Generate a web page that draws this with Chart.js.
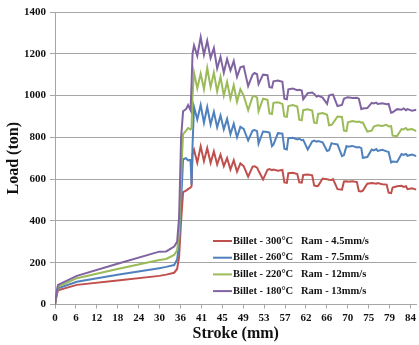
<!DOCTYPE html>
<html>
<head>
<meta charset="utf-8">
<script src="https://cdn.jsdelivr.net/npm/chart.js@4/dist/chart.umd.min.js"></script>
<style>
  html, body { margin: 0; padding: 0; background: #fff; }
  #wrap { width: 419px; height: 345px; }
</style>
</head>
<body>
<div id="wrap"><canvas id="chart" width="419" height="345"></canvas></div>
<script>
// stroke labels shown under the category axis (one per tick position)
const strokeTicks = [0, 6, 12, 18, 24, 30, 36, 41, 45, 49, 53, 57, 62, 66, 70, 75, 79, 84];

// sample positions along the category axis (in tick units), shared by all series
const pos = [
  0, 0.071, 0.142, 1.045, 2.991, 4.986, 5.318, 5.698, 5.840, 5.935, 6.030, 6.125, 6.268, 6.363, 6.481, 6.529, 6.576,
  6.648, 6.804, 6.966, 7.123, 7.279, 7.441, 7.597, 7.754, 7.915, 8.072, 8.229, 8.390, 8.547, 8.704, 8.865,
  9.022, 9.236, 9.449, 9.544, 9.663,
  9.734, 9.948, 10.161, 10.256, 10.375,
  10.446, 10.660, 10.874, 10.969, 11.087,
  11.159, 11.372, 11.586, 11.681, 11.800,
  11.871, 12.085, 12.298, 12.393, 12.512,
  12.583, 12.797, 13.011, 13.106, 13.224,
  13.295, 13.509, 13.723, 13.818, 13.937,
  14.008, 14.222, 14.435, 14.530, 14.649,
  14.720, 14.934, 15.147, 15.242, 15.361,
  15.432, 15.646, 15.859, 15.954, 16.073,
  16.144, 16.358, 16.572, 16.667, 16.785,
  16.857, 17.070, 17.284
];

// load (ton)
const load300 = [
  0, 40, 68, 94, 115, 137, 143, 152, 170, 229, 400, 538, 545, 552, 560, 565, 720,
  741, 678, 757, 686, 749, 678, 733, 670, 717, 662, 701, 646, 690, 636, 675,
  662, 612, 660, 661, 655,
  640, 598, 645, 648, 643,
  646, 640, 644, 584, 582,
  628, 630, 624, 585, 583,
  620, 622, 618, 570, 566,
  568, 603, 600, 597, 596,
  600, 552, 550, 589, 590,
  588, 590, 586, 543, 541,
  545, 578, 582, 580, 578,
  581, 576, 574, 535, 533,
  560, 566, 568, 563, 566,
  552, 556, 550
];
const load260 = [
  0, 45, 78, 109, 142, 174, 180, 189, 215, 295, 487, 695, 700, 690, 692, 575, 760,
  945, 885, 955, 870, 945, 862, 922, 848, 905, 838, 888, 815, 865, 800, 850,
  840, 785, 832, 835, 830,
  770, 828, 826, 822, 758,
  765, 820, 818, 746, 742,
  796, 798, 790, 794, 786,
  788, 742, 780, 784, 779,
  782, 776, 735, 738, 772,
  770, 766, 710, 715, 758,
  755, 759, 752, 754, 748,
  702, 706, 742, 738, 744,
  735, 740, 733, 730, 680,
  684, 682, 720, 716, 721,
  712, 718, 710
];
const load220 = [
  0, 50, 85, 126, 170, 213, 218, 237, 260, 340, 620, 815, 832, 845, 838, 842, 1000,
  1110, 1035, 1105, 1030, 1132, 1040, 1110, 1020, 1090, 1000, 1065, 985, 1050, 970, 1030,
  1000, 930, 995, 998, 990,
  925, 985, 980, 915, 912,
  965, 968, 960, 900, 898,
  950, 955, 948, 885, 882,
  930, 934, 928, 870, 868,
  912, 916, 908, 858, 860,
  868, 900, 898, 832, 830,
  872, 878, 874, 876, 870,
  872, 828, 832, 852, 856,
  858, 855, 860, 852, 854,
  808, 806, 840, 838, 845,
  836, 840, 830
];
const load180 = [
  0, 55, 94, 137, 195, 253, 254, 277, 300, 420, 800, 925, 935, 955, 930, 1050, 1200,
  1240, 1190, 1280, 1195, 1262, 1180, 1228, 1130, 1185, 1110, 1175, 1120, 1165, 1090, 1135,
  1140, 1045, 1100, 1108, 1102,
  1055, 1100, 1098, 1040, 1038,
  1068, 1072, 1066, 985, 982,
  1030, 1034, 1026, 1028, 1024,
  982, 1012, 1015, 1008, 995,
  1000, 990, 960, 1000, 1004,
  1005, 950, 955, 985, 990,
  992, 988, 990, 985, 935,
  938, 940, 965, 962, 966,
  960, 963, 958, 960, 918,
  920, 935, 932, 938, 930,
  935, 928, 932
];

const billetTemps = ["300°C", "260°C", "220°C", "180°C"];
const ramSpeeds = ["4.5mm/s", "7.5mm/s", "12mm/s", "13mm/s"];
const series = [load300, load260, load220, load180];
const colors = ["#C0504D", "#4F81BD", "#9BBB59", "#8064A2"];

const FONT = '"Liberation Serif", "Times New Roman", serif';
const GRID = "#a6a6a6";
const INK = "#111";

// legend drawn inside the plot, bottom right
const legendBox = {
  id: "legendBox",
  afterDatasetsDraw(chart) {
    const { ctx, chartArea: a } = chart;
    ctx.save();
    ctx.font = "bold 10.5px " + FONT;
    ctx.textBaseline = "middle";
    ctx.fillStyle = INK;
    chart.data.datasets.forEach((ds, i) => {
      const y = a.top + 229 + i * 16.7;
      ctx.strokeStyle = ds.borderColor;
      ctx.lineWidth = 2;
      ctx.beginPath();
      ctx.moveTo(a.left + 158, y);
      ctx.lineTo(a.left + 177, y);
      ctx.stroke();
      ctx.fillText("Billet - " + billetTemps[i], a.left + 178, y);
      ctx.fillText("Ram - " + ramSpeeds[i], a.left + 246, y);
    });
    ctx.restore();
  }
};

new Chart(document.getElementById("chart"), {
  type: "line",
  data: {
    datasets: series.map((vals, i) => ({
      label: "Billet - " + billetTemps[i] + "   Ram - " + ramSpeeds[i],
      data: vals.map((v, k) => ({ x: pos[k], y: v })),
      borderColor: colors[i],
      backgroundColor: colors[i],
      borderWidth: 2,
      pointRadius: 0,
      tension: 0,
      order: 3 - i,
    })),
  },
  options: {
    responsive: false, animation: false, devicePixelRatio: 1,
    layout: { padding: { top: 12, right: 0, left: 0, bottom: 0 } },
    plugins: { legend: { display: false }, tooltip: { enabled: false } },
    scales: {
      x: {
        type: "linear", min: 0, max: 17.284,
        afterBuildTicks: s => { s.ticks = strokeTicks.map((_, i) => ({ value: i })); },
        afterFit: s => { s.height = 40.5; },
        ticks: {
          autoSkip: false, maxRotation: 0, padding: 3, color: INK,
          font: { family: FONT, size: 11, weight: "bold" },
          callback: v => strokeTicks[v],
        },
        grid: { drawOnChartArea: false, color: GRID, tickLength: 4 },
        border: { color: GRID },
        title: {
          display: true, text: "Stroke (mm)", color: INK,
          font: { family: FONT, size: 16, weight: "bold" },
          padding: { top: 0, bottom: 2 },
        },
      },
      y: {
        min: 0, max: 1400,
        afterFit: s => { s.width = 55; },
        ticks: {
          stepSize: 200, padding: 4, color: INK,
          font: { family: FONT, size: 11, weight: "bold" },
          callback: v => String(v),
        },
        grid: { color: GRID, tickLength: 5 },
        border: { color: GRID },
        title: {
          display: true, text: "Load (ton)", color: INK,
          font: { family: FONT, size: 16, weight: "bold" },
          padding: { top: 4, bottom: 0 },
        },
      },
    },
  },
  plugins: [legendBox],
});
</script>
</body>
</html>
